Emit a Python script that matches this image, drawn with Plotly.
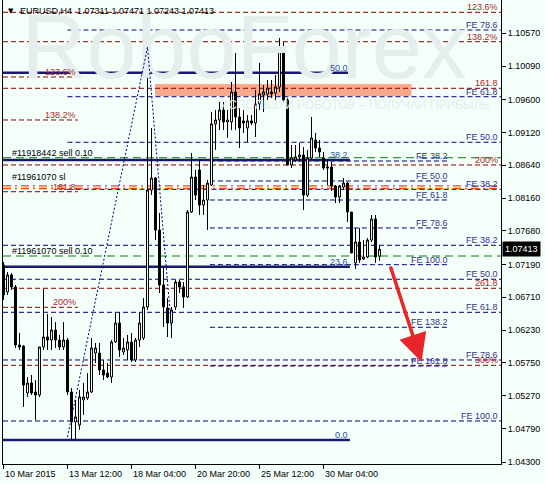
import plotly.graph_objects as go

# ---------------- data ----------------
candle_idx = list(range(95))
opens = [1.07183,1.06788,1.07037,1.06861,1.06013,1.05998,1.05311,1.05457,1.05326,1.05282,
         1.05984,1.06130,1.06086,1.06232,1.06086,1.05984,1.06086,1.05326,1.04888,1.04844,
         1.05209,1.05238,1.05326,1.05896,1.05896,1.05648,1.05603,1.05545,1.06057,1.06334,
         1.05911,1.05940,1.06057,1.05794,1.06086,1.06115,1.06568,1.08279,1.08454,1.07694,
         1.06890,1.06554,1.06334,1.06568,1.06934,1.06861,1.06715,1.07957,1.08469,1.08572,
         1.08060,1.08133,1.08352,1.09245,1.09303,1.09449,1.09274,1.09274,1.09712,1.09347,
         1.09289,1.09186,1.09289,1.09259,1.09537,1.09668,1.09683,1.09712,1.09697,1.09785,
         1.10355,1.09595,1.08645,1.08718,1.08762,1.08791,1.08206,1.08747,1.09010,1.08893,
         1.08747,1.08616,1.08616,1.08337,1.08177,1.08323,1.08381,1.07957,1.07212,1.07519,
         1.07270,1.07300,1.07548,1.07855,1.07311]
highs = [1.07227,1.07081,1.07066,1.06890,1.06188,1.06013,1.05545,1.05574,1.05501,1.05984,
         1.06832,1.06466,1.06422,1.06349,1.06159,1.06349,1.06115,1.05384,1.05209,1.05355,
         1.05457,1.05603,1.06115,1.06042,1.06042,1.05794,1.05750,1.06086,1.06481,1.06495,
         1.06115,1.06159,1.06188,1.06115,1.06481,1.06700,1.10370,1.09186,1.08469,1.07943,
         1.07154,1.06700,1.06568,1.06963,1.06963,1.06934,1.07987,1.08820,1.08572,1.08718,
         1.08352,1.08425,1.09420,1.09449,1.09566,1.09566,1.09449,1.09858,1.10282,1.09478,
         1.09449,1.09376,1.09376,1.09741,1.10136,1.09814,1.09887,1.09887,1.09960,1.10501,
         1.10443,1.09624,1.08937,1.08937,1.08966,1.08908,1.08864,1.09347,1.09113,1.09010,
         1.08835,1.08718,1.08689,1.08352,1.08352,1.08454,1.08396,1.07957,1.07724,1.07724,
         1.07548,1.07577,1.07914,1.07914,1.07471]
lows = [1.06671,1.06744,1.06817,1.05969,1.05940,1.05107,1.05253,1.05282,1.04917,1.05253,
        1.05940,1.05940,1.05940,1.05969,1.05940,1.05940,1.05282,1.04624,1.04610,1.04770,
        1.04990,1.05209,1.05311,1.05750,1.05574,1.05501,1.05530,1.05457,1.06042,1.05838,
        1.05867,1.05794,1.05765,1.05765,1.05984,1.06086,1.06525,1.08206,1.07548,1.06773,
        1.06276,1.06130,1.06115,1.06525,1.06773,1.06554,1.06700,1.07943,1.08133,1.07914,
        1.07914,1.07694,1.08337,1.08864,1.09156,1.09156,1.09040,1.09156,1.09156,1.08893,
        1.09113,1.08981,1.09230,1.09054,1.09449,1.09420,1.09595,1.09624,1.09595,1.09712,
        1.09566,1.08645,1.08601,1.08689,1.08689,1.07987,1.08177,1.08718,1.08835,1.08762,
        1.08572,1.08352,1.08264,1.08089,1.08089,1.08279,1.07811,1.07358,1.07124,1.07212,
        1.07256,1.07285,1.07519,1.07212,1.07243]
closes = [1.06744,1.07037,1.06861,1.06013,1.05984,1.05428,1.05457,1.05311,1.05282,1.05984,
          1.06130,1.06086,1.06232,1.06086,1.05984,1.06086,1.05326,1.04888,1.04961,1.05253,
          1.05253,1.05326,1.05969,1.05969,1.05648,1.05574,1.05545,1.06057,1.06334,1.05940,
          1.05969,1.06057,1.05794,1.06086,1.06334,1.06568,1.08279,1.08454,1.07694,1.06890,
          1.06568,1.06334,1.06525,1.06934,1.06861,1.06715,1.07957,1.08469,1.08206,1.08060,
          1.08133,1.08381,1.09245,1.09303,1.09449,1.09274,1.09303,1.09712,1.09347,1.09186,
          1.09259,1.09289,1.09259,1.09537,1.09683,1.09712,1.09770,1.09683,1.09785,1.10355,
          1.09595,1.08645,1.08747,1.08762,1.08791,1.08206,1.08747,1.09040,1.08893,1.08835,
          1.08601,1.08601,1.08337,1.08177,1.08337,1.08381,1.07957,1.07358,1.07519,1.07256,
          1.07300,1.07548,1.07855,1.07300,1.07413]

price_ticks = [1.10570,1.10090,1.09600,1.09120,1.08640,1.08160,1.07680,1.07190,
               1.06710,1.06230,1.05750,1.05270,1.04790,1.04300]
date_tick_idx = [0, 16, 32, 48, 64, 80]
date_labels = ["10 Mar 2015", "13 Mar 12:00", "18 Mar 04:00", "20 Mar 20:00",
               "25 Mar 12:00", "30 Mar 04:00"]

# Fibonacci / expansion levels
red_full_levels = [1.10877, 1.10447, 1.09766, 1.08645, 1.06842, 1.05716]
red_full_labels = ["123.6%", "138.2%", "161.8", "200%", "261.8", "300%"]
red_left_levels = [1.09931, 1.09303, 1.08254, 1.06564]
red_left_labels = ["123.6%", "138.2%", "161.8", "200%"]
fibo_levels = [1.04624, 1.07158, 1.08718, 1.09994]
fibo_labels = ["0.0", "23.6", "38.2", "50.0"]
fe_up_levels = [1.10618, 1.09643, 1.08977, 1.08289]
fe_up_labels = ["FE 78.6", "FE 61.8", "FE 50.0", "FE 38.2"]
fe_down_levels = [1.07471, 1.06974, 1.06491, 1.05794, 1.04902]
fe_down_labels = ["FE 38.2", "FE 50.0", "FE 61.8", "FE 78.6", "FE 100.0"]
fe_mid_levels = [1.08703, 1.08411, 1.08133, 1.07724, 1.07187, 1.06272, 1.05706]
fe_mid_labels = ["FE 38.2", "FE 50.0", "FE 61.8", "FE 78.6", "FE 100.0", "FE 138.2", "FE 161.8"]
order_levels = [1.08751, 1.07314]
order_labels = ["#11918442 sell 0.10", "#11961070 sell 0.10"]
sl_levels = [1.08338, 1.08301]
sl_label = "#11961070 sl"
zone_low, zone_high = 1.09654, 1.09829
zigzag_idx = [16, 36, 42]
zigzag_price = [1.04668, 1.10370, 1.06250]
arrow_from = (96.6, 1.07183)
arrow_to = (104.5, 1.05765)
last_price = 1.07413
title_text = "EURUSD,H4  1.07311 1.07471 1.07243 1.07413"

# ---------------- figure ----------------
FONT = "Liberation Sans"
X0, X1 = -0.125, 124.375
Y0, Y1 = 1.04273, 1.11057

fig = go.Figure()

# watermark (drawn first, under candles)
fig.add_trace(go.Scatter(x=[4.5], y=[1.1024], mode="text", text=["RoboForex"],
                         textposition="middle right",
                         textfont=dict(family=FONT, size=90, color="#E6EDED"),
                         hoverinfo="skip", showlegend=False))
fig.add_trace(go.Scatter(x=[121.5], y=[1.0950], mode="text",
                         text=["ИСПОЛЬЗУЙ РОБОТОВ – ПОЛУЧАЙ ПРИБЫЛЬ"],
                         textposition="middle left",
                         textfont=dict(family=FONT, size=12, color="#E4ECEC"),
                         hoverinfo="skip", showlegend=False))

# zigzag
fig.add_trace(go.Scatter(x=zigzag_idx, y=zigzag_price, mode="lines",
                         line=dict(color="#000080", width=1, dash="2px,2px"),
                         hoverinfo="skip", showlegend=False))

fig.add_trace(go.Candlestick(
    x=candle_idx, open=opens, high=highs, low=lows, close=closes,
    increasing=dict(line=dict(color="black", width=1), fillcolor="white"),
    decreasing=dict(line=dict(color="black", width=1), fillcolor="black"),
    whiskerwidth=0, hoverinfo="skip", showlegend=False))

shapes = []
annots = []

def hline(y, x0, x1, color, width=1, dash="5px,3px"):
    shapes.append(dict(type="line", xref="x", yref="y", x0=x0, x1=x1, y0=y, y1=y,
                       line=dict(color=color, width=width, dash=dash), layer="below"))

def label(text, x, y, color, anchor="right", xref="x", xshift=0):
    annots.append(dict(text=text, x=x, y=y, xref=xref, yref="y", xanchor=anchor,
                       yanchor="bottom", yshift=-2, xshift=xshift, showarrow=False,
                       font=dict(family=FONT, size=9, color=color)))

RED = "#8B0000"
RED_T = "#A52A2A"
NAVY = "#000080"
FE_T = "#33338F"
FIB = "#191970"
FIB_T = "#2F4F9F"

# orange zone
shapes.append(dict(type="rect", xref="x", yref="y", x0=37.9, x1=102.0,
                   y0=zone_low, y1=zone_high, fillcolor="#FBA98A",
                   line=dict(width=0), layer="below"))

for lv, tx in zip(red_full_levels, red_full_labels):
    hline(lv, X0, X1, RED)
    label(tx, 1, lv, RED_T, xref="paper", xshift=-1)
for lv, tx in zip(red_left_levels, red_left_labels):
    hline(lv, X0, 18.6, RED)
    label(tx, 18.6, lv, RED_T)
for lv, tx in zip(fe_up_levels, fe_up_labels):
    hline(lv, 16, X1, NAVY)
    label(tx, 1, lv, FE_T, xref="paper", xshift=-1)
for lv, tx in zip(fe_down_levels, fe_down_labels):
    hline(lv, X0, X1, NAVY)
    label(tx, 1, lv, FE_T, xref="paper", xshift=-1)
for lv, tx in zip(fe_mid_levels, fe_mid_labels):
    hline(lv, 51.6, 111.6, NAVY)
    label(tx, 111.6, lv, FE_T)
for lv, tx in zip(fibo_levels, fibo_labels):
    hline(lv, X0, 86.6, FIB, width=2.5, dash="solid")
    label(tx, 86.6, lv, FIB_T)
for lv, tx in zip(order_levels, order_labels):
    hline(lv, X0, X1, "#008000", width=1, dash="8px,5px")
    label(tx, 1.6, lv, "black", anchor="left")
for lv in sl_levels:
    hline(lv, X0, X1, "#FF4500", width=1.3, dash="8px,4px,2px,4px")
annots.append(dict(text=sl_label, x=1.6, y=sl_levels[0], xref="x", yref="y",
                   xanchor="left", yanchor="bottom", yshift=2, showarrow=False,
                   font=dict(family=FONT, size=9, color="black")))

# red arrow
annots.append(dict(x=arrow_to[0], y=arrow_to[1], ax=arrow_from[0], ay=arrow_from[1],
                   xref="x", yref="y", axref="x", ayref="y", text="", showarrow=True,
                   arrowhead=2, arrowsize=1.6, arrowwidth=3.5, arrowcolor="#E8262A"))

# title
annots.append(dict(text=title_text, x=0.03, y=1, xref="paper", yref="paper",
                   xanchor="left", yanchor="top", yshift=-4, showarrow=False,
                   font=dict(family=FONT, size=9, color="black")))
annots.append(dict(text="▼", x=0.006, y=1, xref="paper", yref="paper",
                   xanchor="left", yanchor="top", yshift=-5, showarrow=False,
                   font=dict(family="DejaVu Sans", size=7, color="black")))

# last price tag
annots.append(dict(text="1.07413", x=1, y=last_price, xref="paper", yref="y",
                   xanchor="left", yanchor="middle", xshift=1, showarrow=False,
                   bgcolor="black", borderpad=2,
                   font=dict(family=FONT, size=9, color="white")))

# date labels
for i, tx in zip(date_tick_idx, date_labels):
    annots.append(dict(text=tx, x=i, y=0, xref="x", yref="paper", xanchor="left",
                       yanchor="top", yshift=-3, xshift=-1, showarrow=False,
                       font=dict(family=FONT, size=9, color="black")))

fig.update_layout(
    width=545, height=484,
    margin=dict(l=3, r=44, t=0, b=20),
    paper_bgcolor="#F5FFFA", plot_bgcolor="#F5FFFA",
    shapes=shapes, annotations=annots, showlegend=False,
    xaxis=dict(range=[X0, X1], showgrid=False, zeroline=False, rangeslider=dict(visible=False),
               tickvals=date_tick_idx, ticks="outside", ticklen=4, tickcolor="black",
               showticklabels=False, showline=True, linecolor="black", linewidth=1),
    yaxis=dict(range=[Y0, Y1], side="right", showgrid=False, zeroline=False,
               tickvals=price_ticks, ticktext=[f"{v:.5f}" for v in price_ticks],
               ticks="outside", ticklen=4, tickcolor="black",
               tickfont=dict(family=FONT, size=9, color="black"),
               showline=True, linecolor="black", linewidth=1, mirror=True),
)

fig.write_html("out.html", config={"displayModeBar": False},
               post_script="document.body.style.margin='0';document.body.style.background='#F5FFFA';")
